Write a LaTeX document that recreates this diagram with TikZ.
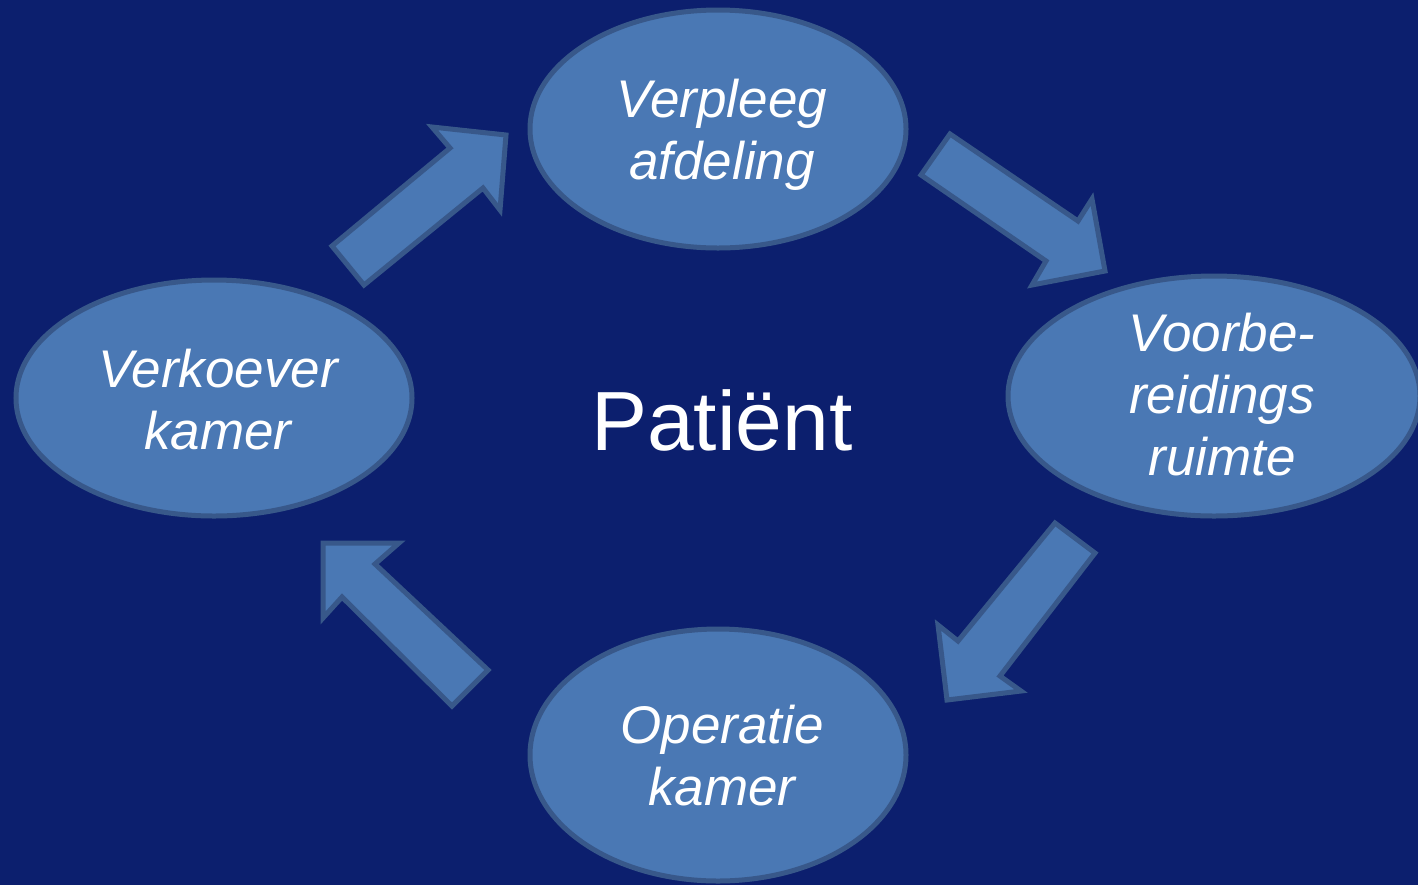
\documentclass[tikz,border=0pt]{standalone}
\usepackage{fontspec}
\setmainfont{Liberation Sans}
\usetikzlibrary{shapes.geometric}
\definecolor{bgnavy}{RGB}{12,31,110}
\definecolor{ellfill}{RGB}{74,120,180}
\definecolor{ellline}{RGB}{56,88,138}
\begin{document}
\begin{tikzpicture}[x=0.5pt,y=-0.5pt,
  room/.style={ellipse, draw=ellline, line width=2.5pt, fill=ellfill, inner sep=0pt},
  roomtext/.style={text=white, align=center, inner sep=0pt, font=\fontsize{26.5}{31}\selectfont\itshape},
  blockarrow/.style={draw=ellline, line width=2.5pt, fill=ellfill, line join=miter}]
\fill[bgnavy] (0,0) rectangle (1418,885);
\useasboundingbox (0,0) rectangle (1418,885);
% rooms
\node[room, minimum width=188pt, minimum height=119pt] (top) at (718,129) {};
\node[room, minimum width=206pt, minimum height=120pt] (right) at (1214,396) {};
\node[room, minimum width=188pt, minimum height=126pt] (bottom) at (718,755) {};
\node[room, minimum width=198pt, minimum height=118pt] (left) at (214,398) {};
% texts
\node[roomtext] (toptext) at (722,135) {Verpleeg\\afdeling};
\node[roomtext] (righttext) at (1222,395) {Voorbe-\\reidings\\ruimte};
\node[roomtext] (bottomtext) at (722,756) {Operatie\\kamer};
\node[roomtext] (lefttext) at (218,400) {Verkoever\\kamer};
\node[text=white, inner sep=0pt, anchor=base, font=\fontsize{42}{50}\selectfont] (patient) at (722,450) {Patiënt};
% block arrows
\draw[blockarrow] (332,246) -- (364,285) -- (483,188) -- (500,210) -- (506,135) -- (432,127) -- (450,148) -- cycle;
\draw[blockarrow] (950,134) -- (921,175) -- (1046,261) -- (1032,285) -- (1105,271) -- (1092,199) -- (1078,221) -- cycle;
\draw[blockarrow] (1055,523) -- (1095,553) -- (1000,676) -- (1021,691) -- (947,700) -- (938,625) -- (958,641) -- cycle;
\draw[blockarrow] (323,543) -- (399,543) -- (375,564) -- (488,670) -- (452,706) -- (342,597) -- (323,618) -- cycle;
\end{tikzpicture}
\end{document}
